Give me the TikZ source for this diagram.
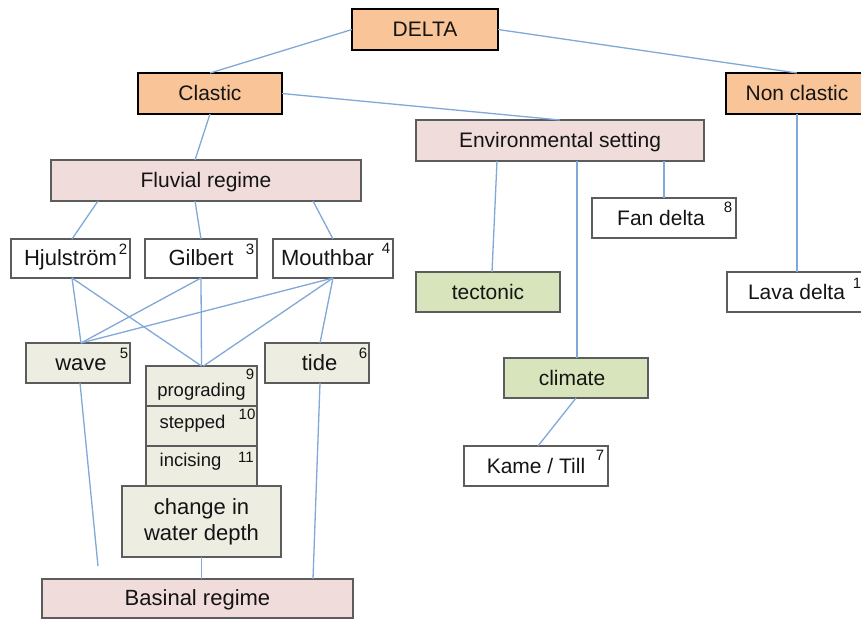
\documentclass[tikz,border=0pt]{standalone}
\usepackage{fontspec}
\setmainfont{Liberation Sans}
\usetikzlibrary{calc}
\definecolor{orangefill}{HTML}{F9C497}
\definecolor{pinkfill}{HTML}{F1DCDC}
\definecolor{greenfill}{HTML}{D8E5BC}
\definecolor{beigefill}{HTML}{EEEDE1}
\definecolor{linkblue}{HTML}{80A8D8}
\definecolor{boxgray}{HTML}{5C5C5C}
\definecolor{inkblack}{HTML}{141414}
\newcommand\fsz[1]{\fontsize{#1}{#1}\selectfont}
\newcommand\bx[7]{\node[#6, minimum width={#4-#2}, minimum height={#5-#3}] (#1) at ({(#2+#4)/2},{(#3+#5)/2}) {#7};}
\tikzset{
  base/.style={rectangle, inner sep=0pt, outer sep=0pt, text=inkblack, text height=16pt, text depth=2pt},
  topbox/.style={base, draw=black, line width=2.6pt, fill=orangefill, font=\fsz{21}},
  pinkbox/.style={base, draw=boxgray, line width=1.3pt, fill=pinkfill, font=\fsz{21}},
  greenbox/.style={base, draw=boxgray, line width=1.3pt, fill=greenfill, font=\fsz{21}},
  whitebox/.style={base, draw=boxgray, line width=1.3pt, fill=white, font=\fsz{21}},
  beigebox/.style={base, draw=boxgray, line width=1.3pt, fill=beigefill, font=\fsz{22}},
  stackbox/.style={base, draw=boxgray, line width=1.3pt, fill=beigefill, font=\fsz{18.5}, text height=14pt, text depth=2pt},
  bigbox/.style={rectangle, inner sep=0pt, outer sep=0pt, text=inkblack, draw=boxgray, line width=1.3pt, fill=beigefill, align=center, font={\fontsize{22}{25.7}\selectfont}},
  supnum/.style={inner sep=0pt, text=inkblack, font=\fsz{15}},
  link/.style={draw=linkblue, line width=1.3pt},
}
\begin{document}
\begin{tikzpicture}[x=1pt, y=-1pt]
\clip (0,0) rectangle (861,619);
\fill[white] (0,0) rectangle (861,619);
% boxes
\bx{delta}{352}{9}{498}{50}{topbox}{DELTA}
\bx{clastic}{138}{73}{282}{114}{topbox}{Clastic}
\bx{nonclastic}{726}{73}{868}{114}{topbox}{Non clastic}
\bx{env}{416}{120}{704}{161}{pinkbox}{Environmental setting}
\bx{fluvial}{51}{160}{361}{201}{pinkbox}{Fluvial regime}
\bx{hj}{11}{239}{130}{278}{whitebox, font=\fsz{22}}{Hjulström}
\bx{gilbert}{145}{239}{257}{278}{whitebox, font=\fsz{22}}{Gilbert}
\bx{mouthbar}{273}{239}{393}{278}{whitebox, font=\fsz{22}}{Mouthbar\kern11pt}
\bx{fan}{592}{198}{736}{238}{whitebox}{Fan delta\kern6pt}
\bx{tectonic}{416}{272}{560}{312}{greenbox}{tectonic}
\bx{lava}{727}{272}{866}{312}{whitebox}{Lava delta}
\bx{wave}{26}{343}{130}{383}{beigebox}{\kern6pt wave}
\bx{tide}{265}{343}{369}{383}{beigebox}{\kern5pt tide}
\bx{prog}{146}{366}{257}{406}{stackbox}{\raisebox{-4.7pt}{prograding}}
\bx{stepped}{146}{406}{257}{446}{stackbox}{\raisebox{3.7pt}{stepped}\kern18pt}
\bx{incising}{146}{446}{257}{486}{stackbox}{\raisebox{5.3pt}{incising}\kern22pt}
\node[bigbox, minimum width=159pt, minimum height=71pt] (change) at (201.5,521.5) {change in\\water depth};
\bx{basinal}{42}{579}{353}{618}{pinkbox, font=\fsz{22}}{Basinal regime}
\bx{climate}{504}{358}{648}{398}{greenbox}{climate\kern8pt}
\bx{kame}{464}{446}{608}{486}{whitebox}{Kame / Till}
% superscript numbers
\node[supnum] (s2) at (123,249) {2};
\node[supnum] (s3) at (250,249) {3};
\node[supnum] (s4) at (386,248) {4};
\node[supnum] (s8) at (728,207) {8};
\node[supnum] (s1) at (857,283) {1};
\node[supnum] (s5) at (124,353) {5};
\node[supnum] (s6) at (363,353) {6};
\node[supnum] (s9) at (250,374) {9};
\node[supnum] (s10) at (247,414) {10};
\node[supnum] (s11) at (246,457) {11};
\node[supnum] (s7) at (600,455) {7};
% free end
\coordinate (waveend) at (98,566);
% connectors
\path[link] (delta.west) -- (clastic.north);
\path[link] (delta.east) -- (nonclastic.north);
\path[link] (clastic.east) -- (env.north);
\path[link] (clastic.south) -- ([xshift=-11pt]fluvial.north);
\path[link] ([xshift=47pt]fluvial.south west) -- ([xshift=1.5pt]hj.north);
\path[link] ([xshift=144pt]fluvial.south west) -- (gilbert.north);
\path[link] ([xshift=262pt]fluvial.south west) -- (mouthbar.north);
\path[link] ([xshift=81pt]env.south west) -- ([xshift=4pt]tectonic.north);
\path[link] ([xshift=161pt]env.south west) -- ([xshift=161pt]env.south west |- climate.north);
\path[link] ([xshift=248pt]env.south west) -- (fan.north);
\path[link] (nonclastic.south) -- (nonclastic.south |- lava.north);
\path[link] (climate.south) -- ([xshift=2pt]kame.north);
\path[link] ([xshift=1.5pt]hj.south) -- ([xshift=3pt]wave.north);
\path[link] ([xshift=1.5pt]hj.south) -- (prog.north);
\path[link] (gilbert.south) -- ([xshift=3pt]wave.north);
\path[link] (gilbert.south) -- (prog.north);
\path[link] (mouthbar.south) -- ([xshift=3pt]wave.north);
\path[link] (mouthbar.south) -- ([xshift=2pt]prog.north);
\path[link] (mouthbar.south) -- ([xshift=3pt]tide.north);
\path[link] ([xshift=2pt]wave.south) -- (waveend);
\path[link] ([xshift=3pt]tide.south) -- ([xshift=115.5pt]basinal.north);
\path[link] (change.south) -- (change.south |- basinal.north);
\end{tikzpicture}
\end{document}
